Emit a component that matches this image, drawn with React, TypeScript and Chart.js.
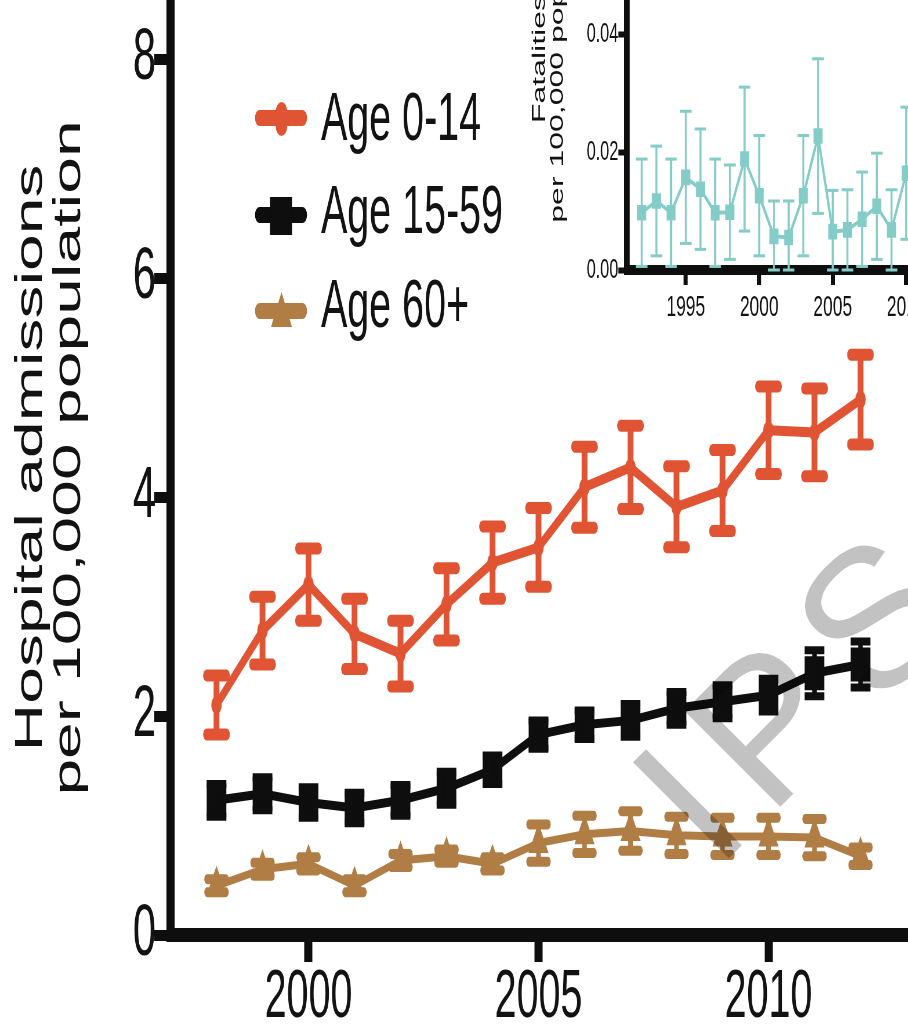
import React, { useEffect, useRef } from 'react';
import { Chart, registerables } from 'chart.js';

Chart.register(...registerables);

// ---- Main panel: hospital admissions per 100,000 population, by age band ----
const YEARS = [1998, 1999, 2000, 2001, 2002, 2003, 2004, 2005, 2006, 2007, 2008, 2009, 2010, 2011, 2012];
const AGE_0_14 = [2.1, 2.78, 3.2, 2.75, 2.57, 3.02, 3.4, 3.54, 4.09, 4.27, 3.91, 4.06, 4.61, 4.59, 4.89];
const AGE_0_14_ERR = [0.27, 0.31, 0.33, 0.32, 0.3, 0.33, 0.33, 0.36, 0.37, 0.38, 0.37, 0.37, 0.4, 0.4, 0.41];
const AGE_15_59 = [1.23, 1.29, 1.21, 1.16, 1.23, 1.34, 1.51, 1.83, 1.92, 1.96, 2.07, 2.13, 2.19, 2.39, 2.47];
const AGE_15_59_ERR = [0.15, 0.15, 0.14, 0.14, 0.14, 0.15, 0.13, 0.13, 0.13, 0.15, 0.15, 0.15, 0.15, 0.21, 0.21];
const AGE_60_PLUS = [0.45, 0.6, 0.65, 0.45, 0.68, 0.72, 0.65, 0.84, 0.92, 0.95, 0.91, 0.9, 0.9, 0.89, 0.72];
const AGE_60_PLUS_ERR = [0.06, 0.06, 0.06, 0.06, 0.06, 0.06, 0.06, 0.17, 0.17, 0.18, 0.17, 0.17, 0.17, 0.17, 0.08];
const MAIN_Y_TICKS = [0, 2, 4, 6, 8];
const MAIN_X_TICKS = [2000, 2005, 2010];
const SERIES_LABELS = ['Age 0-14', 'Age 15-59', 'Age 60+'];
const MAIN_Y_TITLE = ['Hospital admissions', 'per 100,000 population'];

// ---- Inset: fatalities per 100,000 population ----
const INSET_YEARS = [1992, 1993, 1994, 1995, 1996, 1997, 1998, 1999, 2000, 2001, 2002, 2003, 2004, 2005, 2006, 2007, 2008, 2009, 2010];
const FATALITIES = [0.0097, 0.0117, 0.0097, 0.0157, 0.0137, 0.0097, 0.0098, 0.0188, 0.0126, 0.0057, 0.0055, 0.0126, 0.0227, 0.0065, 0.0068, 0.0086, 0.0108, 0.0068, 0.0164];
const FATALITIES_ERR = [0.0091, 0.0093, 0.0091, 0.0112, 0.0102, 0.0091, 0.008, 0.0122, 0.0102, 0.006, 0.0062, 0.0102, 0.0131, 0.007, 0.0068, 0.008, 0.009, 0.0068, 0.0112];
const INSET_Y_TICKS = [0, 0.02, 0.04];
const INSET_X_TICKS = [1995, 2000, 2005, 2010];
const INSET_Y_TITLE = ['Fatalities', 'per 100,000 population'];

const WATERMARK = 'IPS';

// ---- styling ----
const FONT = "'Liberation Sans', Arial, Helvetica, sans-serif";
const INK = '#121212';
const ORANGE = '#E05433';
const BLACK = '#0e0e0e';
const TAN = '#B07D45';
const TEAL = '#84CCC7';

// The figure is drawn wide and squeezed horizontally by CSS.
const SQUEEZE = 0.58;

// main canvas geometry (logical px)
const MAIN_W = 1700;
const MAIN_H = 1090;
const MAIN_TOP = -40;
const mx = (sx: number) => sx / SQUEEZE;
const my = (sy: number) => sy - MAIN_TOP;

// inset canvas geometry (logical px)
const INSET_LEFT = 520;
const INSET_TOP = -20;
const INSET_W = 820;
const INSET_H = 350;
const ix = (sx: number) => (sx - INSET_LEFT) / SQUEEZE;
const iy = (sy: number) => sy - INSET_TOP;

type Band = {
  years: number[];
  values: number[];
  errors: number[];
  color: string;
  barWidth: number;
  capWidth: number;
  capHalf: number;
  capRound: boolean;
  floorZero?: boolean;
};

function errorBarPlugin(id: string, bands: Band[]) {
  return {
    id,
    afterDatasetsDraw(chart: any) {
      const { ctx } = chart;
      const xs = chart.scales.x;
      const ys = chart.scales.y;
      bands.forEach((b) => {
        ctx.save();
        ctx.strokeStyle = b.color;
        b.years.forEach((yr, i) => {
          const px = xs.getPixelForValue(yr);
          let lo = b.values[i] - b.errors[i];
          if (b.floorZero) lo = Math.max(0, lo);
          const hi = b.values[i] + b.errors[i];
          const pTop = ys.getPixelForValue(hi);
          const pBot = ys.getPixelForValue(lo);
          ctx.lineCap = 'butt';
          ctx.lineWidth = b.barWidth;
          ctx.beginPath();
          ctx.moveTo(px, pTop);
          ctx.lineTo(px, pBot);
          ctx.stroke();
          ctx.lineCap = b.capRound ? 'round' : 'butt';
          ctx.lineWidth = b.capWidth;
          [pTop, pBot].forEach((py) => {
            ctx.beginPath();
            ctx.moveTo(px - b.capHalf, py);
            ctx.lineTo(px + b.capHalf, py);
            ctx.stroke();
          });
        });
        ctx.restore();
      });
    },
  };
}

function drawRotatedText(ctx: CanvasRenderingContext2D, text: string, x: number, y: number, font: string) {
  ctx.save();
  ctx.translate(x, y);
  ctx.rotate(-Math.PI / 2);
  ctx.font = font;
  ctx.fillStyle = INK;
  ctx.textAlign = 'center';
  ctx.textBaseline = 'alphabetic';
  ctx.fillText(text, 0, 0);
  ctx.restore();
}

const mainDecorations = {
  id: 'mainDecorations',
  afterDraw(chart: any) {
    const ctx: CanvasRenderingContext2D = chart.ctx;

    // axis title
    drawRotatedText(ctx, MAIN_Y_TITLE[0], mx(42), my(458), `66px ${FONT}`);
    drawRotatedText(ctx, MAIN_Y_TITLE[1], mx(80), my(458), `66px ${FONT}`);

    // legend
    const x0 = mx(255);
    const x1 = mx(307);
    const colors = [ORANGE, BLACK, TAN];
    const lineY = [118, 215, 311];
    const baseY = [140, 233, 327];
    colors.forEach((c, i) => {
      ctx.save();
      ctx.strokeStyle = c;
      ctx.fillStyle = c;
      ctx.lineCap = 'round';
      ctx.lineWidth = 16;
      ctx.beginPath();
      ctx.moveTo(x0 + 8, my(lineY[i]));
      ctx.lineTo(x1 - 8, my(lineY[i]));
      ctx.stroke();
      const cx = mx(281.5);
      if (i === 0) {
        ctx.lineWidth = 20;
        ctx.beginPath();
        ctx.moveTo(cx, my(112));
        ctx.lineTo(cx, my(126));
        ctx.stroke();
      } else if (i === 1) {
        ctx.fillRect(mx(270), my(197), mx(292) - mx(270), 38);
      } else {
        ctx.beginPath();
        ctx.moveTo(cx, my(292));
        ctx.lineTo(mx(271), my(327));
        ctx.lineTo(mx(292), my(327));
        ctx.closePath();
        ctx.fill();
      }
      ctx.restore();

      ctx.save();
      ctx.font = `68px ${FONT}`;
      ctx.fillStyle = INK;
      ctx.textAlign = 'left';
      ctx.textBaseline = 'alphabetic';
      ctx.fillText(SERIES_LABELS[i], mx(321), my(baseY[i]));
      ctx.restore();
    });

    // watermark, drawn in unsqueezed page coordinates
    ctx.save();
    ctx.scale(1 / SQUEEZE, 1);
    ctx.translate(0, -MAIN_TOP);
    ctx.translate(716, 871);
    ctx.rotate(-Math.PI / 4);
    ctx.globalCompositeOperation = 'multiply';
    ctx.font = `197px ${FONT}`;
    (ctx as any).letterSpacing = '20px';
    ctx.fillStyle = '#c2c2c2';
    ctx.textAlign = 'left';
    ctx.textBaseline = 'alphabetic';
    ctx.fillText(WATERMARK, 0, 0);
    ctx.restore();
  },
};

const insetDecorations = {
  id: 'insetDecorations',
  afterDraw(chart: any) {
    const ctx: CanvasRenderingContext2D = chart.ctx;
    drawRotatedText(ctx, INSET_Y_TITLE[0], ix(545), iy(59), `32px ${FONT}`);
    drawRotatedText(ctx, INSET_Y_TITLE[1], ix(563), iy(59), `32px ${FONT}`);
  },
};

function fixedTicks(values: number[]) {
  return (scale: any) => {
    scale.ticks = values.map((v) => ({ value: v }));
  };
}

function fixedSize(dim: 'width' | 'height', size: number) {
  return (scale: any) => {
    scale[dim] = size;
    scale.paddingTop = 0;
    scale.paddingBottom = 0;
    scale.paddingLeft = 0;
    scale.paddingRight = 0;
  };
}

function series(years: number[], values: number[]) {
  return years.map((x, i) => ({ x, y: values[i] }));
}

function mainConfig(): any {
  const left = mx(170.5);
  const right = mx(952.5);
  const top = my(-6.7);
  const bottom = my(935);
  const lineSet = (label: string, values: number[], color: string, width: number, style: string, radius: number) => ({
    label,
    data: series(YEARS, values),
    borderColor: color,
    backgroundColor: color,
    pointBackgroundColor: color,
    pointBorderColor: color,
    pointBorderWidth: 0,
    borderWidth: width,
    borderJoinStyle: 'round',
    borderCapStyle: 'round',
    pointStyle: style,
    pointRadius: radius,
    tension: 0,
  });
  return {
    type: 'line',
    data: {
      datasets: [
        lineSet(SERIES_LABELS[0], AGE_0_14, ORANGE, 10, 'circle', 9),
        lineSet(SERIES_LABELS[1], AGE_15_59, BLACK, 9, 'rect', 24),
        lineSet(SERIES_LABELS[2], AGE_60_PLUS, TAN, 8, 'triangle', 20),
      ],
    },
    options: {
      animation: false,
      responsive: false,
      events: [],
      layout: { padding: { left: 0, top, right: MAIN_W - right, bottom: 0 } },
      plugins: { legend: { display: false }, tooltip: { enabled: false }, title: { display: false } },
      scales: {
        x: {
          type: 'linear',
          min: 1997,
          max: 2014,
          afterBuildTicks: fixedTicks(MAIN_X_TICKS),
          afterFit: fixedSize('height', MAIN_H - bottom),
          border: { display: true, color: BLACK, width: 14 },
          grid: { display: true, drawOnChartArea: false, drawTicks: true, tickLength: 27, tickWidth: 14, tickColor: BLACK },
          ticks: {
            autoSkip: false,
            maxRotation: 0,
            padding: -1,
            color: INK,
            font: { family: FONT, size: 68, lineHeight: 1.1 },
            callback: (v: number) => String(v),
          },
        },
        y: {
          type: 'linear',
          min: 0,
          max: 8.6,
          afterBuildTicks: fixedTicks(MAIN_Y_TICKS),
          afterFit: fixedSize('width', left),
          border: { display: true, color: BLACK, width: 14 },
          grid: { display: true, drawOnChartArea: false, drawTicks: true, tickLength: 28, tickWidth: 11, tickColor: BLACK },
          ticks: {
            padding: -3,
            color: INK,
            font: { family: FONT, size: 72, lineHeight: 1.1 },
            callback: (v: number) => String(v),
          },
        },
      },
    },
    plugins: [
      errorBarPlugin('mainErrorBars', [
        { years: YEARS, values: AGE_60_PLUS, errors: AGE_60_PLUS_ERR, color: TAN, barWidth: 8, capWidth: 10, capHalf: 16, capRound: true },
        { years: YEARS, values: AGE_15_59, errors: AGE_15_59_ERR, color: BLACK, barWidth: 8, capWidth: 8, capHalf: 17, capRound: false },
        { years: YEARS, values: AGE_0_14, errors: AGE_0_14_ERR, color: ORANGE, barWidth: 10, capWidth: 12, capHalf: 17, capRound: true },
      ]),
      mainDecorations,
    ],
  };
}

function insetConfig(): any {
  const left = ix(627);
  const right = ix(950.3);
  const top = iy(-7.3);
  const bottom = iy(270);
  return {
    type: 'line',
    data: {
      datasets: [
        {
          label: INSET_Y_TITLE[0],
          data: series(INSET_YEARS, FATALITIES),
          borderColor: TEAL,
          backgroundColor: TEAL,
          pointBackgroundColor: TEAL,
          pointBorderWidth: 0,
          borderWidth: 4,
          borderJoinStyle: 'round',
          pointStyle: 'rect',
          pointRadius: 11,
          tension: 0,
        },
      ],
    },
    options: {
      animation: false,
      responsive: false,
      events: [],
      layout: { padding: { left: 0, top, right: INSET_W - right, bottom: 0 } },
      plugins: { legend: { display: false }, tooltip: { enabled: false }, title: { display: false } },
      scales: {
        x: {
          type: 'linear',
          min: 1991,
          max: 2013,
          afterBuildTicks: fixedTicks(INSET_X_TICKS),
          afterFit: fixedSize('height', INSET_H - bottom),
          border: { display: true, color: BLACK, width: 10 },
          grid: { display: true, drawOnChartArea: false, drawTicks: true, tickLength: 15, tickWidth: 7, tickColor: BLACK },
          ticks: {
            autoSkip: false,
            maxRotation: 0,
            padding: 6,
            color: INK,
            font: { family: FONT, size: 30, lineHeight: 1.1 },
            callback: (v: number) => String(v),
          },
        },
        y: {
          type: 'linear',
          min: 0,
          max: 0.047,
          afterBuildTicks: fixedTicks(INSET_Y_TICKS),
          afterFit: fixedSize('width', left),
          border: { display: true, color: BLACK, width: 10.3 },
          grid: { display: true, drawOnChartArea: false, drawTicks: true, tickLength: 15, tickWidth: 6, tickColor: BLACK },
          ticks: {
            padding: 0,
            color: INK,
            font: { family: FONT, size: 28, lineHeight: 1.1 },
            callback: (v: number) => v.toFixed(2),
          },
        },
      },
    },
    plugins: [
      errorBarPlugin('insetErrorBars', [
        { years: INSET_YEARS, values: FATALITIES, errors: FATALITIES_ERR, color: TEAL, barWidth: 3.5, capWidth: 3, capHalf: 10, capRound: false, floorZero: true },
      ]),
      insetDecorations,
    ],
  };
}

export default function App() {
  const mainRef = useRef<HTMLCanvasElement>(null);
  const insetRef = useRef<HTMLCanvasElement>(null);

  useEffect(() => {
    const main = new Chart(mainRef.current as HTMLCanvasElement, mainConfig());
    const inset = new Chart(insetRef.current as HTMLCanvasElement, insetConfig());
    return () => {
      main.destroy();
      inset.destroy();
    };
  }, []);

  const squeezed = { transform: `scaleX(${SQUEEZE})`, transformOrigin: '0 0' };

  return (
    <div style={{ position: 'fixed', left: 0, top: 0, width: 908, height: 1036, overflow: 'hidden', background: '#fff' }}>
      <canvas
        ref={mainRef}
        width={MAIN_W}
        height={MAIN_H}
        style={{ position: 'absolute', left: 0, top: MAIN_TOP, width: MAIN_W, height: MAIN_H, ...squeezed }}
      />
      <canvas
        ref={insetRef}
        width={INSET_W}
        height={INSET_H}
        style={{ position: 'absolute', left: INSET_LEFT, top: INSET_TOP, width: INSET_W, height: INSET_H, background: '#fff', ...squeezed }}
      />
    </div>
  );
}
